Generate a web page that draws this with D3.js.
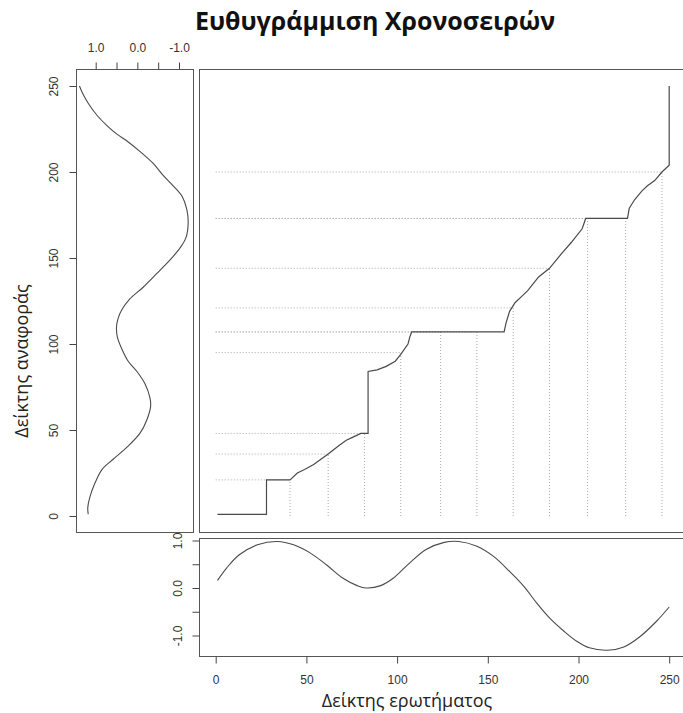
<!DOCTYPE html>
<html>
<head>
<meta charset="utf-8">
<script src="https://cdn.jsdelivr.net/npm/d3@7"></script>
<style>
  html, body { margin: 0; padding: 0; background: #fff; }
  svg { display: block; }
  .tick text { font-family: "Liberation Sans", Arial, sans-serif; font-size: 12px; fill: #333; }
  .tick line { stroke: #444; }
</style>
</head>
<body>
<svg id="chart" width="683" height="713"></svg>
<script>
// Query series (bottom panel): index and value
const queryIdx = [1, 6, 13, 23, 34, 43, 52, 61, 70, 78, 83, 91, 98, 107, 116, 126, 134, 144, 153, 162, 170, 177, 184, 192, 199, 206, 216, 225, 234, 243, 250];
const queryVal = [0.16, 0.42, 0.70, 0.91, 0.98, 0.91, 0.74, 0.49, 0.21, 0.05, 0.00, 0.05, 0.21, 0.53, 0.81, 0.96, 0.98, 0.88, 0.67, 0.35, 0.03, -0.32, -0.63, -0.91, -1.12, -1.26, -1.31, -1.24, -1.02, -0.70, -0.40];

// Reference series (left panel, drawn sideways): index and value
const refIdx = [1, 5, 11, 19, 27, 33, 40, 48, 56, 64, 69, 77, 84, 90, 97, 104, 110, 115, 120, 126, 133, 141, 149, 156, 162, 170, 178, 186, 192, 198, 205, 212, 218, 222, 227, 233, 240, 245, 250];
const refVal = [1.18, 1.19, 1.14, 1.02, 0.85, 0.58, 0.25, -0.06, -0.23, -0.32, -0.30, -0.18, 0.01, 0.22, 0.37, 0.48, 0.50, 0.46, 0.37, 0.19, -0.14, -0.47, -0.79, -1.03, -1.17, -1.22, -1.19, -1.07, -0.86, -0.62, -0.38, -0.06, 0.25, 0.49, 0.73, 0.97, 1.18, 1.30, 1.39];

// Warping path breakpoints (query index, reference index)
const pathQ = [1, 28, 28, 41, 45, 49, 54, 58, 62, 68, 72, 76, 80, 84, 84, 89, 94, 99, 102, 106, 107, 108, 159, 160, 162, 165, 169, 172, 178, 184, 191, 196, 202, 204, 227, 228, 231, 235, 238, 242, 246, 250, 250];
const pathR = [1, 1, 21, 21, 25, 27, 30, 33, 36, 41, 44, 46, 48, 48, 84, 85, 87, 90, 94, 100, 104, 107, 107, 112, 119, 124, 128, 131, 139, 144, 153, 159, 167, 173, 173, 179, 184, 189, 192, 195, 200, 204, 250];

// Highlighted matches along the path
const matchQ = [41, 62, 82, 102, 124, 144, 164, 184, 205, 226, 246];
const matchR = [21, 36, 48, 95, 107, 107, 121, 144, 173, 173, 200];

// Tick values
const indexTicks = [0, 50, 100, 150, 200, 250];
const valueTicks = [1.0, 0.5, 0.0, -0.5, -1.0];
const valueLabels = [1.0, 0.0, -1.0];

const titleText = "Ευθυγράμμιση Χρονοσειρών";
const xLabel = "Δείκτης ερωτήματος";
const yLabel = "Δείκτης αναφοράς";

const svg = d3.select("#chart");
const lineColor = "#4a4a4a";
const boxColor = "#555";

// Panels
const leftBox = { x0: 76, x1: 193, y0: 69, y1: 532 };
const mainBox = { x0: 199, x1: 700, y0: 69, y1: 532 };
const botBox  = { x0: 199, x1: 700, y0: 538, y1: 656 };

// Scales
const xQ = d3.scaleLinear().domain([0, 250]).range([215.7, 669.2]);
const yR = d3.scaleLinear().domain([0, 250]).range([516, 86]);
const xRv = d3.scaleLinear().domain([1, -1]).range([95.7, 179]);
const yQv = d3.scaleLinear().domain([1, -1]).range([540.5, 635.5]);

function box(b) {
  svg.append("rect")
    .attr("x", b.x0 + 0.5).attr("y", b.y0 + 0.5)
    .attr("width", b.x1 - b.x0).attr("height", b.y1 - b.y0)
    .attr("fill", "none").attr("stroke", boxColor).attr("stroke-width", 1);
}

// Title
svg.append("text")
  .attr("x", 375).attr("y", 30)
  .attr("text-anchor", "middle")
  .style("font-family", "'Open Sans', 'Noto Sans', sans-serif")
  .style("font-weight", "bold")
  .style("font-size", "25px")
  .attr("fill", "#111")
  .text(titleText);

// Dotted match guides in the main panel
const matches = matchQ.map((q, i) => ({ q, r: matchR[i] }));
const guides = svg.append("g")
  .attr("stroke", "#aaa").attr("stroke-width", 1)
  .attr("stroke-dasharray", "1,2").attr("fill", "none");
guides.selectAll("line.h").data(matches).join("line").attr("class", "h")
  .attr("x1", xQ(0)).attr("x2", d => xQ(d.q))
  .attr("y1", d => yR(d.r)).attr("y2", d => yR(d.r));
guides.selectAll("line.v").data(matches).join("line").attr("class", "v")
  .attr("x1", d => xQ(d.q)).attr("x2", d => xQ(d.q))
  .attr("y1", yR(0)).attr("y2", d => yR(d.r));

// Warping path
const pathPts = pathQ.map((q, i) => [q, pathR[i]]);
svg.append("path")
  .datum(pathPts)
  .attr("fill", "none").attr("stroke", lineColor).attr("stroke-width", 1.2)
  .attr("d", d3.line().x(d => xQ(d[0])).y(d => yR(d[1])));

// Reference curve (left panel, value on horizontal reversed axis)
const refPts = refIdx.map((r, i) => [r, refVal[i]]);
svg.append("path")
  .datum(refPts)
  .attr("fill", "none").attr("stroke", lineColor).attr("stroke-width", 1.1)
  .attr("d", d3.line().curve(d3.curveCatmullRom.alpha(0.5))
    .x(d => xRv(d[1])).y(d => yR(d[0])));

// Query curve (bottom panel)
const qPts = queryIdx.map((q, i) => [q, queryVal[i]]);
svg.append("path")
  .datum(qPts)
  .attr("fill", "none").attr("stroke", lineColor).attr("stroke-width", 1.1)
  .attr("d", d3.line().curve(d3.curveCatmullRom.alpha(0.5))
    .x(d => xQ(d[0])).y(d => yQv(d[1])));

box(leftBox); box(mainBox); box(botBox);

const fmtVal = v => valueLabels.includes(v) ? d3.format(".1f")(v).replace("−", "-") : "";

// Top axis of left panel (reference values)
const gTop = svg.append("g").attr("transform", `translate(0,${leftBox.y0 + 0.5})`)
  .call(d3.axisTop(xRv).tickValues(valueTicks).tickSize(7).tickSizeOuter(0).tickFormat(fmtVal));
gTop.select(".domain").remove();
gTop.selectAll(".tick text").attr("y", -17.5).attr("dy", 0);

// Left axis of left panel (reference index), rotated labels
const gLeft = svg.append("g").attr("transform", `translate(${leftBox.x0 + 0.5},0)`)
  .call(d3.axisLeft(yR).tickValues(indexTicks).tickSize(7).tickSizeOuter(0));
gLeft.select(".domain").remove();
gLeft.selectAll(".tick text")
  .attr("x", 0).attr("dy", "0.35em")
  .attr("text-anchor", "middle")
  .attr("transform", "translate(-23,0) rotate(-90)");

// Left axis of bottom panel (query values), rotated labels
const gBL = svg.append("g").attr("transform", `translate(${botBox.x0 + 0.5},0)`)
  .call(d3.axisLeft(yQv).tickValues(valueTicks).tickSize(7).tickSizeOuter(0).tickFormat(fmtVal));
gBL.select(".domain").remove();
gBL.selectAll(".tick text")
  .attr("x", 0).attr("dy", "0.35em")
  .attr("text-anchor", "middle")
  .attr("transform", "translate(-22,0) rotate(-90)");

// Bottom axis (query index)
const gBot = svg.append("g").attr("transform", `translate(0,${botBox.y1 + 0.5})`)
  .call(d3.axisBottom(xQ).tickValues(indexTicks).tickSize(7).tickSizeOuter(0));
gBot.select(".domain").remove();
gBot.selectAll(".tick text").attr("y", 27).attr("dy", 0);

// Axis titles
svg.append("text")
  .attr("x", 407).attr("y", 707)
  .attr("text-anchor", "middle")
  .style("font-family", "'Open Sans', 'Noto Sans', sans-serif")
  .style("font-size", "18px")
  .attr("fill", "#222")
  .text(xLabel);

svg.append("text")
  .attr("transform", "translate(28,361) rotate(-90)")
  .attr("text-anchor", "middle")
  .style("font-family", "'Open Sans', 'Noto Sans', sans-serif")
  .style("font-size", "18px")
  .attr("fill", "#222")
  .text(yLabel);
</script>
</body>
</html>
